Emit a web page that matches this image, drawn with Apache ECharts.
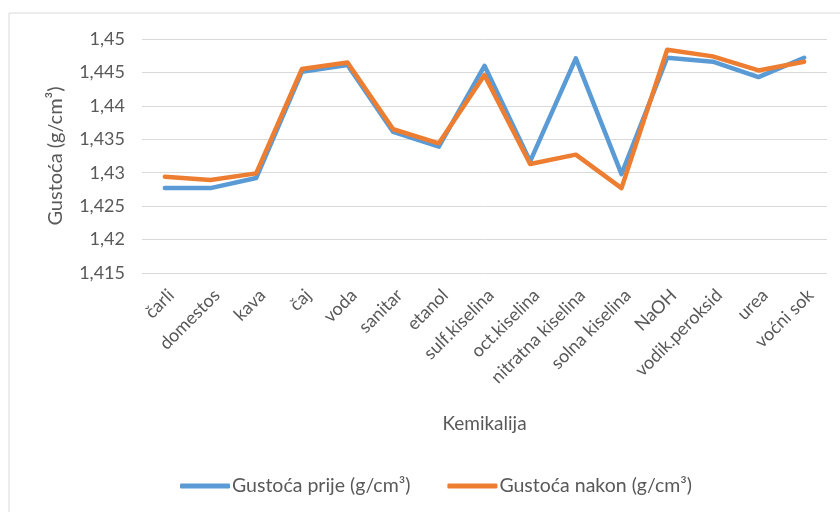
<!DOCTYPE html>
<html>
<head>
<meta charset="utf-8">
<script src="https://cdn.jsdelivr.net/npm/echarts@6/dist/echarts.min.js"></script>
<style>
  html, body { margin: 0; padding: 0; background: #fff; }
  #chart { width: 840px; height: 512px; }
</style>
</head>
<body>
<div id="chart"></div>
<script>
// kemikalije na x osi
const categories = ['čarli', 'domestos', 'kava', 'čaj', 'voda', 'sanitar', 'etanol', 'sulf.kiselina',
  'oct.kiselina', 'nitratna kiselina', 'solna kiselina', 'NaOH', 'vodik.peroksid', 'urea', 'voćni sok']

// gustoća prije
const prije = [1.4277, 1.4277, 1.4292, 1.4451, 1.4461, 1.4361, 1.4339, 1.4460,
  1.4317, 1.4471, 1.4298, 1.4472, 1.4466, 1.4443, 1.4472]

// gustoća nakon
const nakon = [1.4294, 1.4289, 1.4299, 1.4455, 1.4465, 1.4365, 1.4344, 1.4446,
  1.4313, 1.4327, 1.4277, 1.4484, 1.4474, 1.4453, 1.4466]

const yMin = 1.415
const yMax = 1.45
const yStep = 0.005

const seriesNames = ['Gustoća prije (g/cm³)', 'Gustoća nakon (g/cm³)']
const font = 'Lato'
const textColor = '#595959'

const chart = echarts.init(document.getElementById('chart'))

const option = {
  animation: false,
  textStyle: { fontFamily: font },
  color: ['#5B9BD5', '#ED7D31'],
  graphic: [
    {
      type: 'rect',
      shape: { x: 9, y: 13, width: 900, height: 600 },
      style: { fill: 'none', stroke: '#d9d9d9', lineWidth: 1 },
      silent: true
    }
  ],
  grid: {
    left: 142,
    right: 13,
    top: 39,
    bottom: 239
  },
  legend: {
    bottom: 11,
    left: 175,
    icon: 'roundRect',
    itemWidth: 50,
    itemHeight: 5,
    itemGap: 37,
    textStyle: { fontFamily: font, fontSize: 19.5, color: textColor, padding: [0, 0, 0, -3] },
    data: seriesNames
  },
  xAxis: {
    type: 'category',
    data: categories,
    name: 'Kemikalija',
    nameLocation: 'middle',
    nameGap: 141,
    nameTextStyle: { fontFamily: font, fontSize: 19, color: textColor },
    axisLine: { show: false },
    axisTick: { show: false },
    axisLabel: {
      rotate: 45,
      interval: 0,
      margin: 13,
      verticalAlign: 'top',
      fontSize: 18,
      color: textColor,
      fontFamily: font
    }
  },
  yAxis: {
    type: 'value',
    min: yMin,
    max: yMax,
    interval: yStep,
    name: 'Gustoća (g/cm³)',
    nameLocation: 'middle',
    nameGap: 76,
    nameTextStyle: { fontFamily: font, fontSize: 20, color: textColor },
    axisLine: { show: false },
    axisTick: { show: false },
    splitLine: { lineStyle: { color: '#d9d9d9', width: 1 } },
    axisLabel: {
      margin: 17,
      fontSize: 18,
      color: textColor,
      fontFamily: font,
      formatter: v => String(+v.toFixed(3)).replace('.', ',')
    }
  },
  series: [
    {
      name: seriesNames[0],
      type: 'line',
      data: prije,
      showSymbol: false,
      lineStyle: { width: 4.5, cap: 'round', join: 'round' }
    },
    {
      name: seriesNames[1],
      type: 'line',
      data: nakon,
      showSymbol: false,
      lineStyle: { width: 4.5, cap: 'round', join: 'round' }
    }
  ]
}

chart.setOption(option)
</script>
</body>
</html>
